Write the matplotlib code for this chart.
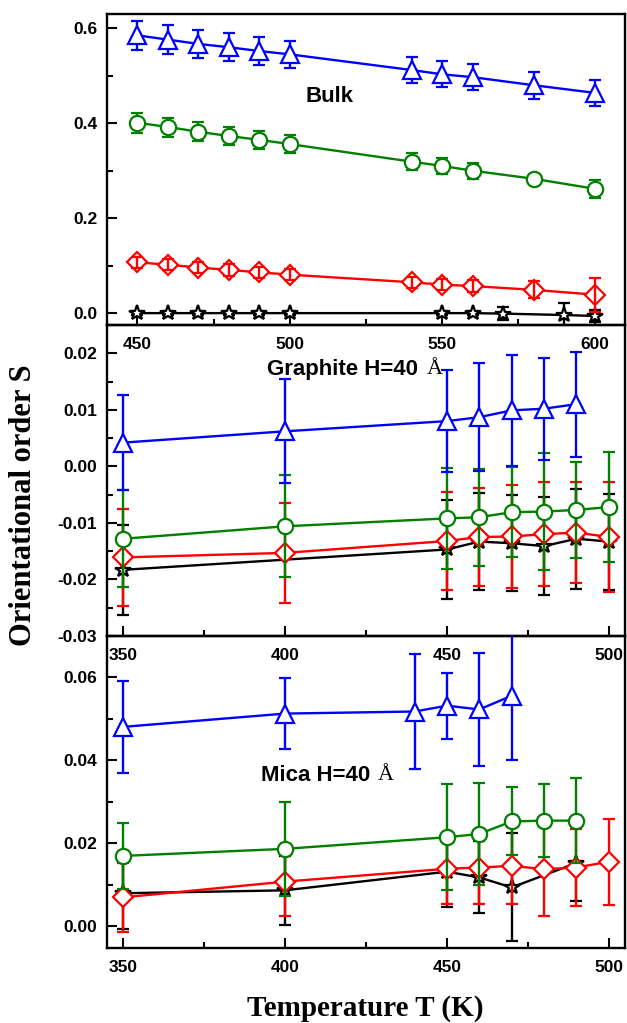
import matplotlib
matplotlib.use('Agg')
import matplotlib.pyplot as plt
from matplotlib.ticker import MultipleLocator, FormatStrFormatter

plt.rcParams['axes.unicode_minus'] = False

BLUE, GREEN, RED, BLACK = '#0000FF', '#008000', '#FF0000', '#000000'

# ---------------- Bulk ----------------
bulk_T = [450, 460, 470, 480, 490, 500, 540, 550, 560, 580, 600]
bulk_blue = [0.585, 0.576, 0.567, 0.560, 0.552, 0.545, 0.512, 0.503, 0.497, 0.480, 0.464]
bulk_blue_err = [0.031, 0.030, 0.030, 0.030, 0.030, 0.029, 0.027, 0.027, 0.027, 0.028, 0.027]
bulk_green = [0.401, 0.392, 0.382, 0.373, 0.365, 0.356, 0.319, 0.310, 0.300, 0.283, 0.262]
bulk_green_err = [0.021, 0.020, 0.020, 0.019, 0.019, 0.019, 0.018, 0.017, 0.017, 0.005, 0.019]
bulk_red = [0.107, 0.102, 0.096, 0.091, 0.086, 0.081, 0.065, 0.060, 0.057, 0.049, 0.039]
bulk_red_err = [0.012, 0.012, 0.012, 0.012, 0.012, 0.012, 0.012, 0.012, 0.012, 0.018, 0.036]
bulk_black_T = [450, 460, 470, 480, 490, 500, 550, 560, 570, 590, 600]
bulk_black = [0.0, 0.0, 0.0, 0.0, 0.0, 0.0, 0.0, 0.0, -0.001, -0.004, -0.006]
bulk_black_err = [0.004, 0.004, 0.004, 0.004, 0.004, 0.004, 0.004, 0.004, 0.013, 0.026, 0.012]

# ---------------- Graphite H=40 A ----------------
gr_blue_T = [350, 400, 450, 460, 470, 480, 490]
gr_blue = [0.0042, 0.0062, 0.0080, 0.0087, 0.0099, 0.0102, 0.0110]
gr_blue_err = [0.0084, 0.0092, 0.0090, 0.0096, 0.0098, 0.0090, 0.0093]
gr_T = [350, 400, 450, 460, 470, 480, 490, 500]
gr_green = [-0.0128, -0.0106, -0.0092, -0.0090, -0.0081, -0.0080, -0.0077, -0.0072]
gr_green_err = [0.0086, 0.0090, 0.0089, 0.0086, 0.0080, 0.0104, 0.0085, 0.0097]
gr_red = [-0.0161, -0.0153, -0.0132, -0.0125, -0.0124, -0.0120, -0.0117, -0.0125]
gr_red_err = [0.0086, 0.0088, 0.0086, 0.0087, 0.0091, 0.0092, 0.0089, 0.0098]
gr_black_T = [350, 450, 460, 470, 480, 490, 500]
gr_black = [-0.0183, -0.0147, -0.0133, -0.0136, -0.0141, -0.0128, -0.0133]
gr_black_err = [0.0080, 0.0088, 0.0086, 0.0085, 0.0086, 0.0088, 0.0085]

# ---------------- Mica H=40 A ----------------
mi_blue_T = [350, 400, 440, 450, 460, 470]
mi_blue = [0.0481, 0.0513, 0.0518, 0.0532, 0.0523, 0.0556]
mi_blue_err = [0.0110, 0.0086, 0.0138, 0.0080, 0.0136, 0.0154]
mi_green_T = [350, 400, 450, 460, 470, 480, 490]
mi_green = [0.0170, 0.0187, 0.0215, 0.0223, 0.0253, 0.0255, 0.0255]
mi_green_err = [0.0080, 0.0113, 0.0128, 0.0123, 0.0082, 0.0088, 0.0103]
mi_red_T = [350, 400, 450, 460, 470, 480, 490, 500]
mi_red = [0.0070, 0.0108, 0.0139, 0.0142, 0.0146, 0.0138, 0.0142, 0.0156]
mi_red_err = [0.0083, 0.0084, 0.0084, 0.0089, 0.0093, 0.0113, 0.0093, 0.0104]
mi_black_T = [350, 400, 450, 460, 470, 490]
mi_black = [0.0080, 0.0087, 0.0132, 0.0118, 0.0094, 0.0153]
mi_black_err_lo = [0.0086, 0.0083, 0.0085, 0.0085, 0.0130, 0.0092]
mi_black_err_hi = [0.0086, 0.0083, 0.0085, 0.0088, 0.0132, 0.0004]

TICKFONT = dict(family='Liberation Sans', weight='bold', size=12.5)

fig = plt.figure(figsize=(6.27, 10.23), dpi=100)
L, W = 107 / 627, 518 / 627
H = 311 / 1023
ax1 = fig.add_axes([L, 1 - 325 / 1023, W, H])
ax2 = fig.add_axes([L, 1 - 636 / 1023, W, H])
ax3 = fig.add_axes([L, 1 - 948 / 1023, W, 312 / 1023])


def series(ax, x, y, err, color, marker, ms, z, above=False):
    ax.errorbar(x, y, yerr=err, color=color, ecolor=color, lw=1.7, elinewidth=1.7,
                capsize=4, capthick=1.7, marker=marker, ms=ms, mfc='white',
                mec=color, mew=1.6, zorder=z, barsabove=above)


def style(ax, xlim, ylim, ymaj, ymin, yfmt):
    ax.set_facecolor('none')
    ax.set_xlim(*xlim)
    ax.set_ylim(*ylim)
    ax.xaxis.set_major_locator(MultipleLocator(50))
    ax.xaxis.set_minor_locator(MultipleLocator(25))
    ax.yaxis.set_major_locator(MultipleLocator(ymaj))
    ax.yaxis.set_minor_locator(MultipleLocator(ymin))
    ax.yaxis.set_major_formatter(FormatStrFormatter(yfmt))
    ax.tick_params(which='both', direction='in', top=False, right=False, width=1.5)
    ax.tick_params(which='major', length=7)
    ax.tick_params(which='minor', length=4)
    ax.tick_params(axis='x', pad=9)
    ax.tick_params(axis='y', pad=7)
    for s in ax.spines.values():
        s.set_linewidth(1.7)
    for lab in ax.get_xticklabels() + ax.get_yticklabels():
        lab.set_fontproperties(matplotlib.font_manager.FontProperties(**TICKFONT))


# Bulk
series(ax1, bulk_black_T, bulk_black, bulk_black_err, BLACK, '*', 11.5, 2)
series(ax1, bulk_T, bulk_red, bulk_red_err, RED, 'D', 10.5, 3, above=True)
series(ax1, bulk_T, bulk_green, bulk_green_err, GREEN, 'o', 11, 4)
series(ax1, bulk_T, bulk_blue, bulk_blue_err, BLUE, '^', 13, 5)
style(ax1, (440, 610), (-0.025, 0.63), 0.2, 0.1, '%.1f')
ax1.text(513, 0.457, 'Bulk', ha='center', va='center',
         fontfamily='Liberation Sans', fontweight='bold', fontsize=16)

# Graphite
series(ax2, gr_black_T, gr_black, gr_black_err, BLACK, '*', 11.5, 2)
series(ax2, gr_T, gr_red, gr_red_err, RED, 'D', 10.5, 3)
series(ax2, gr_T, gr_green, gr_green_err, GREEN, 'o', 11, 4)
series(ax2, gr_blue_T, gr_blue, gr_blue_err, BLUE, '^', 13, 5)
style(ax2, (345, 505), (-0.03, 0.025), 0.01, 0.005, '%.2f')
ax2.annotate('Graphite H=40', xy=(442.4, 0.0172), xytext=(-3, 0), textcoords='offset points',
             ha='right', va='center', fontfamily='Liberation Sans', fontweight='bold', fontsize=16)
ax2.annotate('Å', xy=(442.4, 0.0172), xytext=(3, 0), textcoords='offset points',
             ha='left', va='center', fontfamily='Liberation Serif', fontsize=16)

# Mica
series(ax3, mi_black_T, mi_black, [mi_black_err_lo, mi_black_err_hi], BLACK, '*', 11.5, 2)
series(ax3, mi_red_T, mi_red, mi_red_err, RED, 'D', 10.5, 3)
series(ax3, mi_green_T, mi_green, mi_green_err, GREEN, 'o', 11, 4)
series(ax3, mi_blue_T, mi_blue, mi_blue_err, BLUE, '^', 13, 5)
style(ax3, (345, 505), (-0.0052, 0.070), 0.02, 0.01, '%.2f')
ax3.annotate('Mica H=40', xy=(427.5, 0.0364), xytext=(-3, 0), textcoords='offset points',
             ha='right', va='center', fontfamily='Liberation Sans', fontweight='bold', fontsize=16)
ax3.annotate('Å', xy=(427.5, 0.0364), xytext=(3, 0), textcoords='offset points',
             ha='left', va='center', fontfamily='Liberation Serif', fontsize=16)

fig.text(24 / 627, 1 - 505 / 1023, 'Orientational order S', rotation=90, ha='center', va='center',
         fontfamily='Liberation Serif', fontweight='bold', fontsize=22)
fig.text(365 / 627, 1 - 1008 / 1023, 'Temperature T (K)', ha='center', va='center',
         fontfamily='Liberation Serif', fontweight='bold', fontsize=21)

fig.savefig('out.png', dpi=100)
